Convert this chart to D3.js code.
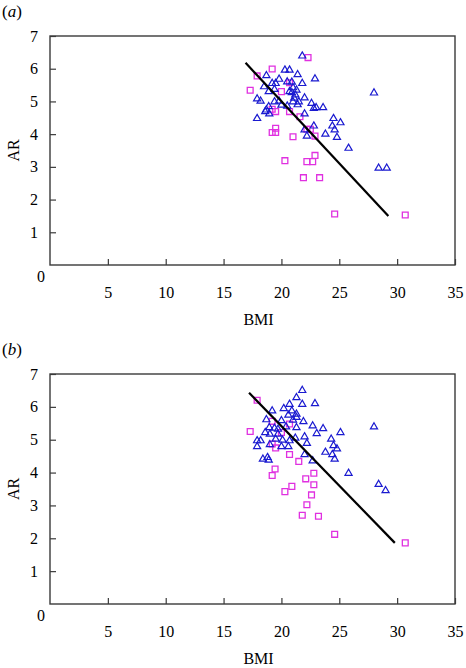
<!DOCTYPE html>
<html><head><meta charset="utf-8">
<script src="https://cdn.jsdelivr.net/npm/d3@7"></script>
<style>body{margin:0;background:#fff}svg{display:block}
svg text{font-family:"Liberation Serif","Times New Roman",Times,serif;}</style>
</head><body>
<svg id="chart" width="466" height="668"></svg>
<script>
const xTicks = [5, 10, 15, 20, 25, 30, 35];
const yTicks = [1, 2, 3, 4, 5, 6, 7];
const panelLabels = ["a", "b"];

// Panel (a)
const aTriBMI = [21.8,20.3,20.7,18.7,21.4,19.8,22.9,19.2,19.5,20.5,20.9,21.8,18.5,18.9,19.4,21.0,21.3,20.9,21.2,22.0,17.9,18.2,19.4,19.8,21.0,21.5,20.0,20.5,22.6,22.8,23.0,23.6,18.9,18.6,18.95,18.7,22.0,17.9,24.5,25.1,22.8,22.0,24.4,24.6,23.8,22.2,24.8,25.8,28.0,28.4,29.1,21.1,20.7,21.4];
const aTriAR  = [6.39,5.96,5.96,5.79,5.82,5.68,5.69,5.55,5.55,5.60,5.59,5.55,5.45,5.30,5.37,5.42,5.35,5.27,5.20,5.11,5.08,5.01,4.99,5.01,4.99,4.99,4.89,4.86,4.94,4.79,4.81,4.81,4.84,4.69,4.62,4.74,4.62,4.48,4.48,4.35,4.25,4.13,4.25,4.13,4.00,3.94,3.90,3.57,5.26,2.96,2.96,5.10,5.30,4.90];
const aSqBMI = [22.3,19.2,17.9,17.3,20.7,20.0,19.2,19.5,20.7,21.6,19.5,19.2,19.5,21.0,22.2,22.5,22.9,20.3,22.2,22.7,22.9,21.9,23.3,24.6,30.7];
const aSqAR  = [6.34,5.99,5.78,5.34,5.57,5.30,4.76,4.69,4.69,4.53,4.18,4.05,4.05,3.92,4.15,4.15,3.94,3.19,3.16,3.16,3.35,2.67,2.67,1.56,1.53];
const aLineBMI = [16.9, 29.24];
const aLineAR  = [6.18, 1.50];

// Panel (b)
const bTriBMI = [21.8,21.3,20.7,21.8,22.9,20.2,20.9,19.2,21.3,20.6,21.3,18.7,20.0,21.0,21.9,22.7,23.6,25.1,18.95,19.4,19.7,20.4,21.3,18.6,19.0,19.7,23.05,21.2,22.0,17.9,18.2,19.5,20.1,20.7,22.2,24.3,17.9,19.0,20.0,20.6,24.5,24.8,23.8,24.4,22.0,18.4,18.9,18.8,24.6,22.7,28.0,28.4,29.0,25.8];
const bTriAR  = [6.50,6.28,6.08,6.08,6.10,5.95,5.88,5.88,5.78,5.75,5.68,5.61,5.58,5.60,5.55,5.42,5.34,5.22,5.37,5.35,5.32,5.39,5.37,5.22,5.17,5.17,5.19,5.05,5.09,4.97,4.97,5.02,4.99,4.97,4.89,5.02,4.79,4.85,4.79,4.79,4.82,4.72,4.62,4.55,4.55,4.41,4.38,4.46,4.41,4.36,5.39,3.64,3.45,3.98];
const bSqBMI = [17.9,17.3,19.2,20.7,20.0,19.2,19.5,20.7,21.5,19.45,19.2,22.1,22.8,20.9,20.3,22.8,22.6,22.2,21.8,23.2,24.6,30.7];
const bSqAR  = [6.20,5.25,5.56,5.48,5.22,4.87,4.75,4.55,4.34,4.11,3.91,3.81,3.98,3.58,3.42,3.63,3.32,3.02,2.70,2.67,2.12,1.86];
const bLineBMI = [17.2, 29.8];
const bLineAR  = [6.43, 1.86];

const svg = d3.select("#chart");
const frameColor = "#3a3a3a";

function drawPanel(cfg) {
  const x = d3.scaleLinear().domain([0, 35]).range([50, 455]);
  const y = d3.scaleLinear().domain([0, 7]).range([cfg.bottom, cfg.top]);
  const g = svg.append("g");

  const lab = g.append("text").attr("x", 2).attr("y", cfg.top - 19)
    .attr("font-size", 17).attr("fill", "#000");
  lab.append("tspan").text("(");
  lab.append("tspan").attr("font-style", "italic").text(cfg.label);
  lab.append("tspan").text(")");

  g.append("rect").attr("x", x(0)).attr("y", y(7))
    .attr("width", x(35) - x(0)).attr("height", y(0) - y(7))
    .attr("fill", "none").attr("stroke", frameColor).attr("stroke-width", 1.4);

  const xa = g.append("g").attr("transform", `translate(0,${y(0)})`)
    .call(d3.axisBottom(x).tickValues(xTicks).tickSize(-6).tickPadding(22).tickFormat(d3.format("d")));
  xa.select(".domain").remove();
  xa.selectAll("line").attr("stroke", frameColor).attr("stroke-width", 1.2);
  xa.selectAll("text").attr("font-family", null).attr("font-size", 16).attr("fill", "#000")
    .attr("dy", "0.35em").attr("y", 27);

  const ya = g.append("g").attr("transform", `translate(${x(0)},0)`)
    .call(d3.axisLeft(y).tickValues(yTicks).tickSize(-6).tickPadding(12).tickFormat(d3.format("d")));
  ya.select(".domain").remove();
  ya.selectAll("line").attr("stroke", frameColor).attr("stroke-width", 1.2);
  ya.selectAll("text").attr("font-size", 16).attr("fill", "#000");
  xa.attr("font-family", null); ya.attr("font-family", null);

  g.append("text").attr("x", x(0) - 9).attr("y", y(0) + 11).attr("dy", "0.35em")
    .attr("text-anchor", "middle").attr("font-size", 16).text("0");

  g.append("text").attr("x", (x(0) + x(35)) / 2 + 6).attr("y", y(0) + 54).attr("dy", "0.35em")
    .attr("text-anchor", "middle").attr("font-size", 16).text("BMI");
  g.append("text").attr("transform", `translate(13,${(y(0) + y(7)) / 2}) rotate(-90)`)
    .attr("dy", "0.35em").attr("text-anchor", "middle")
    .attr("font-size", 16).text("AR");

  const sq = d3.symbol().type(d3.symbolSquare).size(34);
  g.append("g").selectAll("path").data(d3.range(cfg.sqX.length)).join("path")
    .attr("d", sq).attr("transform", i => `translate(${x(cfg.sqX[i])},${y(cfg.sqY[i])})`)
    .attr("fill", "none").attr("stroke", "#e030e0").attr("stroke-width", 1.3);

  const tri = d3.symbol().type(d3.symbolTriangle).size(22);
  g.append("g").selectAll("path").data(d3.range(cfg.triX.length)).join("path")
    .attr("d", tri).attr("transform", i => `translate(${x(cfg.triX[i])},${y(cfg.triY[i])})`)
    .attr("fill", "none").attr("stroke", "#1a1ad0").attr("stroke-width", 1.2);

  g.append("line")
    .attr("x1", x(cfg.lineX[0])).attr("y1", y(cfg.lineY[0]))
    .attr("x2", x(cfg.lineX[1])).attr("y2", y(cfg.lineY[1]))
    .attr("stroke", "#000").attr("stroke-width", 2.2);
}

drawPanel({label: panelLabels[0], top: 36, bottom: 265,
  triX: aTriBMI, triY: aTriAR, sqX: aSqBMI, sqY: aSqAR, lineX: aLineBMI, lineY: aLineAR});
drawPanel({label: panelLabels[1], top: 374, bottom: 604,
  triX: bTriBMI, triY: bTriAR, sqX: bSqBMI, sqY: bSqAR, lineX: bLineBMI, lineY: bLineAR});
</script>
</body></html>
